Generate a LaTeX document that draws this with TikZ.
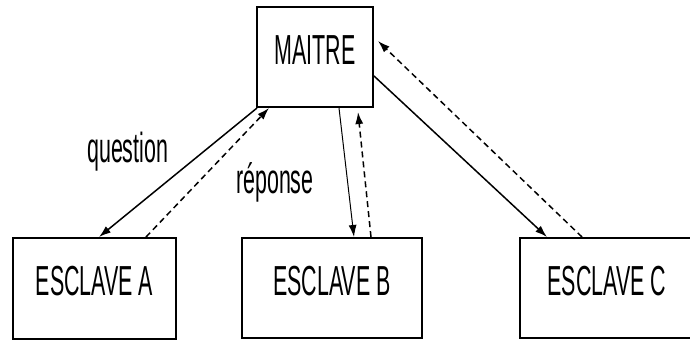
\documentclass[tikz,border=0pt]{standalone}
\usepackage{fontspec}
\setmainfont[FakeStretch=0.51]{Liberation Sans}
\usetikzlibrary{arrows.meta,calc}
\begin{document}
\begin{tikzpicture}[x=1pt,y=-1pt,
  box/.style={draw,line width=2pt,rectangle,inner sep=0pt,
    font=\fontsize{42}{48}\selectfont,text height=30pt,text depth=16pt},
  lbl/.style={font=\fontsize{42}{48}\selectfont,inner sep=0pt,anchor=base west},
  q/.style={line width=1.5pt,-{Latex[length=12pt,width=8pt]}},
  qthin/.style={line width=1pt,-{Latex[length=12pt,width=8pt]}},
  r/.style={line width=1.5pt,dash pattern=on 6pt off 4pt,-{Latex[length=12pt,width=8pt]}}]
\useasboundingbox (0,0) rectangle (690,341);
\node[box,minimum width=116pt,minimum height=100pt] (M) at (315,57) {MAITRE};
\node[box,minimum width=163pt,minimum height=101pt] (A) at (94.5,288.5) {ESCLAVE A};
\node[box,minimum width=180pt,minimum height=100pt] (B) at (332,288) {ESCLAVE B};
\node[box,minimum width=174pt,minimum height=100pt] (C) at (607,288) {ESCLAVE C};
\node[lbl] (lq) at (87,162) {question};
\node[lbl] (lr) at (236,193) {réponse};
% A
\draw[q] ($(M.south west)+(1,0)$) -- ($(A.north west)+(87,0)$);
\draw[r] ($(A.north west)+(134,0)$) -- ($(M.south west)+(13,0)$);
% B
\draw[qthin] ($(M.south west)+(83,0)$) -- ($(B.north west)+(113,0)$);
\draw[r] ($(B.north west)+(130,0)$) -- ($(M.south west)+(102,4)$);
% C
\draw[q] ($(M.north east)+(0,70)$) -- ($(C.north west)+(28,0)$);
\draw[r] ($(C.north west)+(63,0)$) -- ($(M.north east)+(4,35)$);
\end{tikzpicture}
\end{document}
